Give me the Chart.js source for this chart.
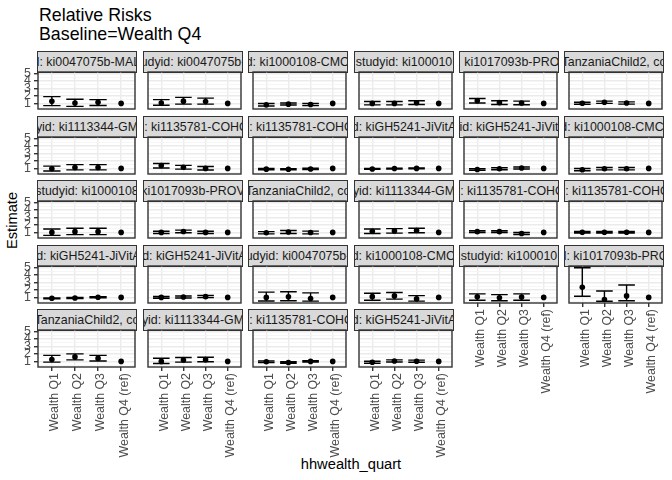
<!DOCTYPE html>
<html><head><meta charset="utf-8">
<script src="https://cdn.jsdelivr.net/npm/chart.js@4"></script>
<style>
html,body{margin:0;padding:0;background:#fff;}
#root{position:relative;width:672px;height:480px;overflow:hidden;font-family:"Liberation Sans",Arial,sans-serif;}
.strip{position:absolute;box-sizing:border-box;background:#D9D9D9;border:1.4px solid #333333;overflow:hidden;display:flex;justify-content:center;align-items:center;white-space:nowrap;font-size:12.4px;color:#1A1A1A;}
canvas{position:absolute;}
.t{position:absolute;white-space:nowrap;color:#000;}
</style></head>
<body><div id="root">
<div class="t" style="left:39px;top:6px;font-size:17.8px;line-height:18.5px;">Relative Risks<br>Baseline=Wealth Q4</div>
<div class="t" style="left:-88px;top:212px;width:200px;text-align:center;font-size:14.7px;line-height:17px;transform:rotate(-90deg);">Estimate</div>
<div class="t" style="left:251px;top:456px;width:200px;text-align:center;font-size:14.7px;line-height:17px;">hhwealth_quart</div>
</div>
<script>
const categories = ['Wealth Q1', 'Wealth Q2', 'Wealth Q3', 'Wealth Q4 (ref)'];
const yTicks = [0.5, 1, 1.5, 2, 2.5, 3, 3.5, 4, 4.5, 5];
const stripLabels = [
  'id: ki0047075b-MAL-', 'udyid: ki0047075b-', 'id: ki1000108-CMC-', 'studyid: ki100010', 'd: ki1017093b-PROV', 'TanzaniaChild2, co',
  'yid: ki1113344-GM', 'd: ki1135781-COHO', 'd: ki1135781-COHO', 'd: kiGH5241-JiVitA', 'id: kiGH5241-JiVit', 'd: ki1000108-CMC-',
  'studyid: ki1000108', 'ki1017093b-PROV', 'TanzaniaChild2, co', 'yid: ki1113344-GM', 'd: ki1135781-COHO', 'd: ki1135781-COHO',
  'id: kiGH5241-JiVitA', 'id: kiGH5241-JiVitA', 'udyid: ki0047075b-', 'id: ki1000108-CMC-', 'studyid: ki100010', 'd: ki1017093b-PRO',
  'TanzaniaChild2, co', 'yid: ki1113344-GM', 'd: ki1135781-COHO', 'd: kiGH5241-JiVitA'
];
const estimate = [
  [1.28, 1.05, 1.15, 1], [1.05, 1.3, 1.25, 1], [0.8, 0.9, 0.85, 1], [1.0, 1.0, 1.08, 1], [1.35, 1.1, 1.05, 1], [1.02, 1.15, 1.05, 1],
  [0.95, 1.12, 1.12, 1], [1.38, 1.15, 1.0, 1], [0.9, 0.88, 0.93, 1], [0.93, 0.98, 1.0, 1], [0.85, 0.95, 1.05, 1], [0.82, 0.95, 0.95, 1],
  [1.0, 1.1, 1.1, 1], [1.0, 1.12, 1.0, 1], [0.95, 1.05, 0.98, 1], [1.15, 1.2, 1.25, 1], [1.1, 1.1, 0.85, 1], [1.02, 1.02, 1.02, 1],
  [0.88, 0.92, 1.02, 1], [1.0, 1.05, 1.1, 1], [1.0, 1.08, 0.85, 1], [1.1, 1.2, 0.8, 1], [1.08, 0.95, 1.05, 1], [2.35, 0.72, 1.2, 1],
  [1.25, 1.6, 1.4, 1], [1.0, 1.19, 1.23, 1], [0.95, 0.85, 1.0, 1], [0.88, 1.05, 1.02, 1]
];
const lower = [
  [0.7, 0.6, 0.72, null], [0.75, 0.9, 0.9, null], [0.65, 0.78, 0.72, null], [0.8, 0.8, 0.85, null], [1.05, 0.85, 0.82, null], [0.88, 1.0, 0.9, null],
  [0.65, 0.8, 0.8, null], [1.05, 0.9, 0.78, null], [0.82, 0.8, 0.85, null], [0.87, 0.92, 0.94, null], [0.75, 0.83, 0.92, null], [0.68, 0.8, 0.8, null],
  [0.6, 0.7, 0.7, null], [0.85, 0.95, 0.85, null], [0.8, 0.85, 0.8, null], [0.85, 0.9, 0.95, null], [0.98, 0.98, 0.72, null], [0.92, 0.92, 0.92, null],
  [0.82, 0.86, 0.95, null], [0.88, 0.93, 0.97, null], [0.52, 0.55, 0.5, null], [0.63, 0.77, 0.5, null], [0.62, 0.55, 0.62, null], [1.15, 0.48, 0.55, null],
  [0.9, 1.2, 1.05, null], [0.72, 0.9, 0.95, null], [0.85, 0.76, 0.93, null], [0.76, 0.92, 0.88, null]
];
const upper = [
  [1.9, 1.55, 1.5, null], [1.5, 1.8, 1.7, null], [0.98, 1.05, 1.0, null], [1.25, 1.25, 1.35, null], [1.65, 1.35, 1.3, null], [1.15, 1.3, 1.2, null],
  [1.3, 1.5, 1.5, null], [1.65, 1.4, 1.25, null], [0.98, 0.97, 1.02, null], [0.99, 1.04, 1.06, null], [0.97, 1.08, 1.18, null], [0.98, 1.12, 1.12, null],
  [1.45, 1.55, 1.55, null], [1.15, 1.3, 1.15, null], [1.1, 1.25, 1.17, null], [1.45, 1.5, 1.55, null], [1.22, 1.22, 0.98, null], [1.12, 1.12, 1.12, null],
  [0.94, 0.98, 1.09, null], [1.12, 1.18, 1.25, null], [1.7, 1.75, 1.6, null], [1.55, 1.65, 1.23, null], [1.47, 1.37, 1.47, null], [4.95, 1.85, 2.65, null],
  [1.8, 2.0, 1.8, null], [1.42, 1.51, 1.56, null], [1.07, 0.95, 1.08, null], [1.02, 1.2, 1.17, null]
];

const FONT = '"Liberation Sans", Arial, sans-serif';
Chart.defaults.font.family = FONT;

const allVals = [].concat(estimate.flat(), lower.flat(), upper.flat()).filter(v => v != null);
const dMin = Math.min(...allVals), dMax = Math.max(...allVals);
const dSpan = dMax - dMin;
const yMin = dMin - 0.05 * dSpan, yMax = dMax + 0.05 * dSpan;

const borderPlugin = {
  id: 'panelBorder',
  afterDatasetsDraw(chart) {
    const a = chart.chartArea, c = chart.ctx;
    c.save();
    c.strokeStyle = '#333333';
    c.lineWidth = 1.4;
    c.strokeRect(a.left, a.top, a.right - a.left, a.bottom - a.top);
    c.restore();
  }
};

const root = document.getElementById('root');
const PW = 98, PH = 37, CAP = 0.375;
const isInt = v => v != null && Math.abs(v - Math.round(v)) < 1e-9;

stripLabels.forEach((label, p) => {
  const row = Math.floor(p / 6), col = p % 6;
  const left = Math.round(38.4 + col * 105.4);
  const top = Math.round(72 + row * 64.5);
  const isLeft = col === 0;
  const isBottom = row === 4 || (row === 3 && col >= 4);
  const yW = isLeft ? 20 : 0;
  const xH = isBottom ? 100 : 0;
  const padT = 8, padB = isBottom ? 0 : 4, padR = 3;

  const strip = document.createElement('div');
  strip.className = 'strip';
  strip.style.left = (left - 0.7) + 'px';
  strip.style.top = (top - 21) + 'px';
  strip.style.width = (PW + 1.4) + 'px';
  strip.style.height = '21.7px';
  const sp = document.createElement('span');
  sp.textContent = label;
  strip.appendChild(sp);
  root.appendChild(strip);

  const cv = document.createElement('canvas');
  const W = yW + PW + padR, H = padT + PH + xH + padB;
  cv.width = W; cv.height = H;
  cv.style.width = W + 'px'; cv.style.height = H + 'px';
  cv.style.left = (left - yW) + 'px';
  cv.style.top = (top - padT) + 'px';
  root.appendChild(cv);

  const pts = categories.map((c, i) => ({ x: i + 1, y: estimate[p][i] }));
  const bars = [];
  categories.forEach((c, i) => {
    const lo = lower[p][i], hi = upper[p][i];
    if (lo == null || hi == null) return;
    const x = i + 1;
    bars.push({ x: x - CAP, y: hi }, { x: x + CAP, y: hi }, { x: x, y: null },
              { x: x, y: hi }, { x: x, y: lo }, { x: x, y: null },
              { x: x - CAP, y: lo }, { x: x + CAP, y: lo }, { x: x, y: null });
  });

  new Chart(cv, {
    type: 'scatter',
    data: {
      datasets: [
        { data: pts, order: 0, pointRadius: 2.8, pointBackgroundColor: '#000', pointBorderWidth: 0, showLine: false },
        { data: bars, order: 1, showLine: true, spanGaps: false, pointRadius: 0, borderColor: '#000', borderWidth: 1.4, fill: false }
      ]
    },
    options: {
      responsive: false, maintainAspectRatio: false, animation: false, devicePixelRatio: 1, events: [],
      layout: { padding: { top: padT, bottom: padB, left: 0, right: padR } },
      plugins: { legend: { display: false }, tooltip: { enabled: false } },
      scales: {
        x: {
          type: 'linear', min: 0.4, max: 4.6, bounds: 'data',
          afterBuildTicks: s => { s.ticks = categories.map((c, i) => ({ value: i + 1 })); },
          afterFit: s => { s.height = xH; s.paddingLeft = 0; s.paddingRight = 0; },
          ticks: { display: isBottom, autoSkip: false, maxRotation: 90, minRotation: 90, padding: 2, labelOffset: 3,
                   color: '#4D4D4D', font: { size: 12.4, family: FONT },
                   callback: v => categories[Math.round(v) - 1] },
          grid: { color: '#EBEBEB', lineWidth: 1.4, drawTicks: isBottom, tickLength: 4, tickColor: '#333333', tickWidth: 1.4 },
          border: { display: false }
        },
        y: {
          type: 'linear', min: yMin, max: yMax, bounds: 'data',
          afterBuildTicks: s => { s.ticks = yTicks.map(v => ({ value: v })); },
          afterFit: s => { s.width = yW; s.paddingTop = 0; s.paddingBottom = 0; },
          ticks: { display: isLeft, autoSkip: false, padding: 3, color: '#4D4D4D', font: { size: 12.4, family: FONT },
                   callback: v => isInt(v) ? String(Math.round(v)) : '' },
          grid: {
            color: ctx => isInt(ctx.tick && ctx.tick.value) ? '#EBEBEB' : '#F4F4F4',
            lineWidth: ctx => isInt(ctx.tick && ctx.tick.value) ? 1.4 : 0.8,
            drawTicks: isLeft, tickLength: 4, tickWidth: 1.4,
            tickColor: ctx => isInt(ctx.tick && ctx.tick.value) ? '#333333' : 'rgba(0,0,0,0)'
          },
          border: { display: false }
        }
      }
    },
    plugins: [borderPlugin]
  });
});
</script>
</body></html>
